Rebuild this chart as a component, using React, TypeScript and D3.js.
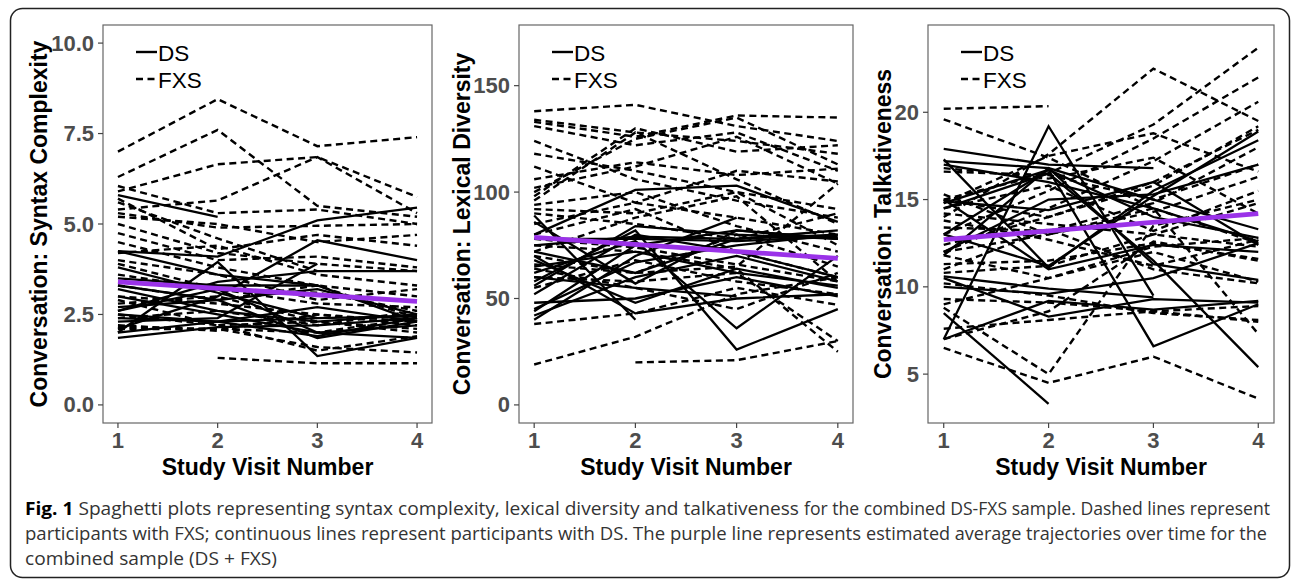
import React from "react";
import * as d3 from "d3";

type Series = (number | null)[];

// ---------------- DATA ----------------
const visits = [1, 2, 3, 4];
const xTicks = [1, 2, 3, 4];

// Panel 1: Syntax complexity
const syntaxDS: Series[] = [
  [4.25, 4.1, 5.1, 5.45],
  [2.0, 3.95, 1.35, 1.85],
  [3.8, 3.1, 2.4, null],
  [2.1, 3.0, 4.55, 4.0],
  [2.6, 3.4, 3.7, 3.7],
  [1.85, 2.15, 2.2, 2.4],
  [2.5, 2.3, 2.7, 2.3],
  [3.3, 2.9, 1.85, 2.3],
  [4.25, 3.6, 3.3, null],
  [2.7, 2.9, 3.2, 2.5],
  [3.0, 2.5, 2.0, 1.85],
  [2.3, 2.4, 3.9, null],
  [2.0, 2.3, 2.4, 2.45],
  [3.2, 2.6, 2.3, 2.5],
  [2.6, 3.2, 2.0, 2.2],
  [3.5, 3.3, 3.3, 2.3],
  [2.4, 2.3, 1.9, 2.4],
  [5.8, 5.2, null, null],
];
const syntaxFXS: Series[] = [
  [7.0, 8.45, 7.15, 7.4],
  [6.3, 7.6, 5.5, 5.2],
  [5.9, 6.65, 6.85, 5.75],
  [5.4, 5.65, 6.85, 5.3],
  [null, 1.3, 1.15, 1.15],
  [6.05, 5.3, 5.4, 5.0],
  [5.2, 5.0, 4.5, 4.7],
  [5.7, 4.3, 4.7, 4.4],
  [5.3, 4.9, 4.95, 5.0],
  [4.75, 4.0, 4.1, 3.8],
  [4.2, 4.4, 3.6, 3.3],
  [3.9, 3.2, 3.1, 2.6],
  [2.1, 2.1, 1.6, 1.45],
  [2.2, 2.05, 2.5, 2.2],
  [3.0, 2.8, 2.5, 2.3],
  [2.15, 2.1, 2.0, 2.4],
  [3.6, 3.2, 2.8, 2.7],
  [5.0, 4.2, 3.9, 3.7],
  [4.5, 3.8, 3.3, 3.0],
  [2.5, 2.2, 1.5, 1.9],
  [2.8, 3.0, 2.3, 2.1],
  [4.0, 3.6, 2.9, 3.2],
  [2.4, 2.6, 2.2, 2.6],
  [3.3, 2.9, 3.3, 2.4],
  [5.6, 4.6, 3.7, null],
  [2.9, 2.2, 2.3, 2.0],
];
const syntaxAvg: Series = [3.4, null, null, 2.86];
const syntaxTicks = [0, 2.5, 5, 7.5, 10];
const syntaxTickLabels = ["0.0", "2.5", "5.0", "7.5", "10.0"];

// Panel 2: Lexical diversity
const lexicalDS: Series[] = [
  [80, 101, 103, 86],
  [89, 40, null, null],
  [86, 57, 82, 78],
  [58, 82, 26, 45],
  [62, 77, 36, 70],
  [75, 79, 78, 80],
  [78, 78, 77, 79],
  [70, 43, 50, 52],
  [48, 50, 60, 51],
  [40, 70, 88, null],
  [44, 75, 82, 78],
  [60, 55, 51, null],
  [65, 72, 62, 56],
  [56, 84, 80, 78],
  [45, 67, 75, 80],
  [42, 60, 70, 58],
  [72, 62, 78, 82],
  [52, 80, 72, 60],
  [68, 48, 64, 55],
];
const lexicalFXS: Series[] = [
  [138, 141, 131, 124],
  [133, 126, 136, 135],
  [134, 128, 124, 118],
  [131, 122, 128, 110],
  [124, 106, 96, 88],
  [118, 110, 100, 92],
  [112, 95, 110, 105],
  [96, 128, 106, 85],
  [98, 130, 119, 122],
  [100, 125, 135, 113],
  [106, 114, 108, 111],
  [19, 32, 52, 60],
  [null, 20, 21, 30],
  [38, 43, 55, 47],
  [70, 62, 65, 104],
  [75, 72, 64, 25],
  [60, 58, 62, 30],
  [64, 55, 45, 62],
  [90, 85, 78, 90],
  [85, 95, 88, 80],
  [92, 90, 100, 75],
  [80, 92, 72, 60],
  [66, 62, 80, 65],
  [72, 88, 98, 58],
  [55, 68, 58, 52],
  [78, 74, 66, 58],
  [94, 100, 84, 72],
  [102, 112, 126, 104],
];
const lexicalAvg: Series = [78.7, null, null, 68.8];
const lexicalTicks = [0, 50, 100, 150];
const lexicalTickLabels = ["0", "50", "100", "150"];

// Panel 3: Talkativeness
const talkDS: Series[] = [
  [7.0, 19.2, 9.5, null],
  [17.9, 17.0, 16.8, null],
  [17.2, 16.8, 11.3, 10.4],
  [17.3, 11.1, 15.5, 18.4],
  [8.5, 3.3, null, null],
  [7.0, 9.2, 8.7, 9.2],
  [14.8, 16.7, 6.6, 9.0],
  [14.5, 16.5, 11.5, 5.4],
  [13.0, 11.2, 15.2, 18.9],
  [10.6, 9.9, 9.4, null],
  [10.0, 9.6, 10.5, 12.5],
  [10.5, 8.3, 9.3, 9.1],
  [14.9, 14.4, 16.0, 12.4],
  [13.0, 16.7, 14.0, 12.8],
  [11.8, 16.8, 15.0, 13.3],
  [15.0, 11.0, 12.4, 12.0],
  [17.0, 16.0, 14.5, 12.6],
  [12.0, 15.0, 15.3, 17.0],
];
const talkFXS: Series[] = [
  [20.2, 20.35, null, null],
  [19.6, 17.4, 14.5, 12.5],
  [14.0, 17.6, 22.5, 19.5],
  [15.0, 16.5, 19.3, 23.7],
  [13.0, 15.5, 18.5, 22.0],
  [12.0, 14.5, 17.2, 20.6],
  [6.5, 4.5, 6.0, 3.6],
  [8.8, 5.0, 13.5, 15.0],
  [12.0, 13.0, 14.5, 7.3],
  [7.6, 8.1, 8.6, 8.0],
  [9.3, 9.1, 8.6, 8.9],
  [15.3, 13.0, 14.3, 16.3],
  [15.0, 14.0, 15.8, 19.2],
  [16.6, 16.4, 15.0, 17.0],
  [14.5, 15.8, 13.2, 15.5],
  [11.3, 11.5, 12.5, 11.6],
  [10.8, 11.2, 13.0, 12.3],
  [13.4, 13.2, 14.8, 18.0],
  [11.8, 10.5, 12.0, 10.3],
  [9.0, 10.5, 12.3, 12.8],
  [16.8, 16.2, 17.4, 14.2],
  [13.8, 12.7, 11.2, 12.7],
  [7.0, 8.6, 12.6, 11.5],
  [10.2, 9.5, 8.5, 8.1],
  [14.8, 17.5, 18.8, 16.6],
  [12.4, 14.0, 16.0, 19.0],
  [11.0, 13.3, 11.0, 10.2],
  [14.2, 13.6, 13.0, 14.8],
];
const talkAvg: Series = [12.7, null, null, 14.2];
const talkTicks = [5, 10, 15, 20];
const talkTickLabels = ["5", "10", "15", "20"];

const yTitles = [
  "Conversation: Syntax Complexity",
  "Conversation: Lexical Diversity",
  "Conversation: Talkativeness",
];
const xTitle = "Study Visit Number";
const legendLabels = ["DS", "FXS"];
const captionBold = "Fig. 1";
// caption pieces: [text, x start, x end, baseline]
const captionParts: [string, number, number, number][] = [
  [" Spaghetti plots representing syntax complexity, lexical diversity and talkativeness", 25, 799, 515],
  ["for the combined DS-FXS sample. Dashed lines represent", 804, 1270, 515],
  ["participants with FXS; continuous lines represent participants with DS. The purple line represents", 25, 861, 540],
  ["estimated average trajectories over time for the", 866, 1267, 540],
  ["combined sample (DS + FXS)", 25, 277, 565],
];

// ---------------- LAYOUT ----------------
const W = 1292;
const H = 580;
const TOP = 25;
const BOTTOM = 423;
const FONT = "'Liberation Sans', Arial, Helvetica, sans-serif";
const DASH = "7 4.5";

const panels = [
  { left: 103, right: 432, titleX: 39, domain: [-0.5, 10.5], ds: syntaxDS, fxs: syntaxFXS, avg: syntaxAvg, ticks: syntaxTicks, labels: syntaxTickLabels, title: yTitles[0] },
  { left: 519, right: 853, titleX: 462, domain: [-8.5, 178.5], ds: lexicalDS, fxs: lexicalFXS, avg: lexicalAvg, ticks: lexicalTicks, labels: lexicalTickLabels, title: yTitles[1] },
  { left: 928, right: 1274, titleX: 883, domain: [2.2, 25], ds: talkDS, fxs: talkFXS, avg: talkAvg, ticks: talkTicks, labels: talkTickLabels, title: yTitles[2] },
];

function Panel(p: any) {
  const x = d3.scaleLinear().domain([0.85, 4.15]).range([p.left, p.right]);
  const y = d3.scaleLinear().domain(p.domain).range([BOTTOM, TOP]);
  const line = d3
    .line<number | null>()
    .defined((d) => d != null)
    .x((_, i) => x(visits[i]))
    .y((d) => y(d as number));
  const avgPts = p.avg
    .map((v: number | null, i: number) => (v == null ? null : [x(visits[i]), y(v)]))
    .filter((d: any) => d);
  const avgLine = d3.line()(avgPts as [number, number][]);
  const cy = (TOP + BOTTOM) / 2;
  const cx = (p.left + p.right) / 2;
  const lx = p.left + 33;
  return (
    <g>
      <defs>
        <clipPath id={`clip${p.left}`}>
          <rect x={p.left} y={TOP} width={p.right - p.left} height={BOTTOM - TOP} />
        </clipPath>
      </defs>
      <g clipPath={`url(#clip${p.left})`}>
        {p.fxs.map((s: Series, i: number) => (
          <path key={"f" + i} d={line(s) || ""} fill="none" stroke="#000" strokeWidth={2.4} strokeDasharray={DASH} />
        ))}
        {p.ds.map((s: Series, i: number) => (
          <path key={"d" + i} d={line(s) || ""} fill="none" stroke="#000" strokeWidth={2.3} />
        ))}
        <path d={avgLine || ""} fill="none" stroke="#9a32e8" strokeWidth={4.8} />
      </g>
      <rect x={p.left} y={TOP} width={p.right - p.left} height={BOTTOM - TOP} fill="none" stroke="#666" strokeWidth={1.2} />
      {p.ticks.map((t: number, i: number) => (
        <g key={"yt" + i}>
          <line x1={p.left - 5} x2={p.left} y1={y(t)} y2={y(t)} stroke="#444" strokeWidth={1.2} />
          <text x={p.left - 9} y={y(t)} textAnchor="end" dominantBaseline="central" fontFamily={FONT} fontWeight="bold" fontSize={22} fill="#4d4d4d">
            {p.labels[i]}
          </text>
        </g>
      ))}
      {xTicks.map((t, i) => (
        <g key={"xt" + i}>
          <line x1={x(t)} x2={x(t)} y1={BOTTOM} y2={BOTTOM + 5} stroke="#444" strokeWidth={1.2} />
          <text x={x(t)} y={448} textAnchor="middle" fontFamily={FONT} fontWeight="bold" fontSize={22} fill="#4d4d4d">
            {t}
          </text>
        </g>
      ))}
      <text x={cx} y={475} textAnchor="middle" fontFamily={FONT} fontWeight="bold" fontSize={23} fill="#000">
        {xTitle}
      </text>
      <text
        transform={`translate(${p.titleX},${cy}) rotate(-90)`}
        textAnchor="middle"
        dominantBaseline="central"
        fontFamily={FONT}
        fontWeight="bold"
        fontSize={23}
        fill="#000"
      >
        {p.title}
      </text>
      <line x1={lx} x2={lx + 21} y1={52} y2={52} stroke="#000" strokeWidth={2.4} />
      <line x1={lx} x2={lx + 21} y1={79} y2={79} stroke="#000" strokeWidth={2.4} strokeDasharray={DASH} />
      <text x={lx + 22} y={53} dominantBaseline="central" fontFamily={FONT} fontSize={22.5} fill="#000">
        {legendLabels[0]}
      </text>
      <text x={lx + 22} y={80} dominantBaseline="central" fontFamily={FONT} fontSize={22.5} fill="#000">
        {legendLabels[1]}
      </text>
    </g>
  );
}

export default function App() {
  const capFont = "'Open Sans', 'Noto Sans', sans-serif";
  return (
    <svg width={W} height={H} style={{ position: "absolute", left: 0, top: 0, display: "block" }}>
      <rect x={0} y={0} width={W} height={H} fill="#fff" />
      <rect x={10.5} y={8.5} width={1279} height={569} rx={12} ry={12} fill="none" stroke="#222" strokeWidth={1.5} />
      {panels.map((p, i) => (
        <Panel key={i} {...p} />
      ))}
      {captionParts.map(([t, x0, x1, yb], i) => (
        <text
          key={"c" + i}
          x={x0}
          y={yb}
          fontFamily={capFont}
          fontSize={17.8}
          fill="#333"
          textLength={x1 - x0}
          lengthAdjust="spacingAndGlyphs"
        >
          {i === 0 ? (
            <>
              <tspan fontWeight="bold" fill="#000">{captionBold}</tspan>
              <tspan>{t}</tspan>
            </>
          ) : (
            t
          )}
        </text>
      ))}
    </svg>
  );
}
